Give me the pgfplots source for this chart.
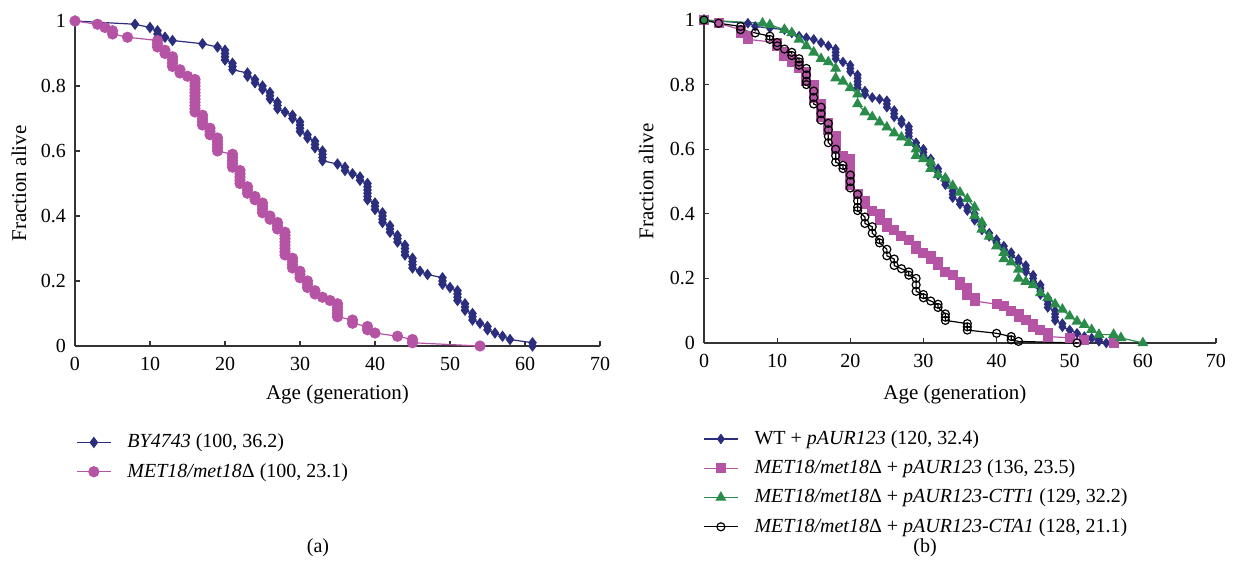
\documentclass[border=0pt]{standalone}
\usepackage{fontspec}
\setmainfont{Liberation Serif}
\usepackage{pgfplots}
\pgfplotsset{compat=1.18}

\definecolor{navy}{RGB}{43,45,125}
\definecolor{pink}{RGB}{181,84,164}
\definecolor{grn}{RGB}{42,140,74}

\pgfplotsset{
  lifespan/.style={
    scale only axis, clip=false,
    axis x line=bottom, axis y line=left,
    axis line style={-, black!80, line width=0.7pt},
    xmin=0, xmax=70, ymin=0, ymax=1,
    xtick={0,10,...,70}, ytick={0,0.2,...,1},
    tick align=inside, major tick length=2.5pt,
    tick style={black!80, line width=0.6pt},
    /pgf/number format/assume math mode=true,
    tick label style={font=\fontsize{10}{12}\selectfont},
    label style={font=\fontsize{10.5}{12}\selectfont},
    xticklabel style={yshift=-2pt},
    yticklabel style={xshift=-1pt},
    ylabel={Fraction alive}, xlabel={Age (generation)},
    legend cell align=left,
    legend style={draw=none, fill=none, font=\fontsize{10}{12}\selectfont,
      row sep=2.2pt, anchor=north west,
      /tikz/every odd column/.append style={column sep=6pt}},
  },
  every axis plot/.append style={line width=0.6pt},
}

\begin{document}
\begin{tikzpicture}
\useasboundingbox (0,0) rectangle (616.5pt,287pt);

% panel (a)
\begin{axis}[lifespan, at={(37.5pt,114pt)}, anchor=south west,
  width=262.5pt, height=162.5pt,
  xlabel style={at={(axis description cs:0.5,-0.15)}, anchor=center},
  ylabel style={at={(axis description cs:-0.107,0.5)}, anchor=center},
  legend style={at={(rel axis cs:-0.01,-0.245)}}]
\addplot[navy, mark=diamond*, mark size=2.4pt, mark options={fill=navy}] coordinates {
(0,1.00)(8,0.99)(10,0.98)(11,0.97)(11,0.96)(12,0.95)(13,0.94)(17,0.93)(19,0.92)(20,0.91)
(20,0.90)(20,0.89)(20,0.88)(21,0.87)(21,0.86)(21,0.85)(23,0.84)(23,0.83)(24,0.82)(24,0.81)
(25,0.80)(25,0.79)(26,0.78)(26,0.77)(26,0.76)(27,0.75)(27,0.74)(27,0.73)(28,0.72)(29,0.71)
(29,0.70)(30,0.69)(30,0.68)(30,0.67)(30,0.66)(31,0.65)(31,0.64)(32,0.63)(32,0.62)(32,0.61)
(33,0.60)(33,0.59)(33,0.58)(33,0.57)(35,0.56)(36,0.55)(36,0.54)(37,0.53)(38,0.52)(38,0.51)
(39,0.50)(39,0.49)(39,0.48)(39,0.47)(39,0.46)(39,0.45)(40,0.44)(40,0.43)(40,0.42)(41,0.41)
(41,0.40)(41,0.39)(41,0.38)(42,0.37)(42,0.36)(42,0.35)(43,0.34)(43,0.33)(43,0.32)(44,0.31)
(44,0.30)(44,0.29)(44,0.28)(45,0.27)(45,0.26)(45,0.25)(45,0.24)(46,0.23)(47,0.22)(49,0.21)
(49,0.20)(49,0.19)(50,0.18)(51,0.17)(51,0.16)(51,0.15)(51,0.14)(52,0.13)(52,0.12)(52,0.11)
(53,0.10)(53,0.09)(53,0.08)(54,0.07)(55,0.06)(55,0.05)(56,0.04)(57,0.03)(58,0.02)(61,0.01)
(61,0.00)};
\addlegendentry{\textit{BY4743} (100, 36.2)}
\addplot[pink, mark=*, mark size=2.5pt, mark options={fill=pink}] coordinates {
(0,1.00)(3,0.99)(4,0.98)(5,0.97)(5,0.96)(7,0.95)(11,0.94)(11,0.93)(11,0.92)(12,0.91)
(12,0.90)(13,0.89)(13,0.88)(13,0.87)(13,0.86)(14,0.85)(14,0.84)(15,0.83)(16,0.82)(16,0.81)
(16,0.80)(16,0.79)(16,0.78)(16,0.77)(16,0.76)(16,0.75)(16,0.74)(16,0.73)(16,0.72)(17,0.71)
(17,0.70)(17,0.69)(17,0.68)(18,0.67)(18,0.66)(18,0.65)(19,0.64)(19,0.63)(19,0.62)(19,0.61)
(19,0.60)(21,0.59)(21,0.58)(21,0.57)(21,0.56)(21,0.55)(22,0.54)(22,0.53)(22,0.52)(22,0.51)
(22,0.50)(23,0.49)(23,0.48)(23,0.47)(24,0.46)(24,0.45)(25,0.44)(25,0.43)(25,0.42)(25,0.41)
(26,0.40)(26,0.39)(27,0.38)(27,0.37)(27,0.36)(28,0.35)(28,0.34)(28,0.33)(28,0.32)(28,0.31)
(28,0.30)(28,0.29)(28,0.28)(29,0.27)(29,0.26)(29,0.25)(29,0.24)(30,0.23)(30,0.22)(30,0.21)
(31,0.20)(31,0.19)(31,0.18)(32,0.17)(32,0.16)(33,0.15)(34,0.14)(35,0.13)(35,0.12)(35,0.11)
(35,0.10)(35,0.09)(37,0.08)(37,0.07)(39,0.06)(39,0.05)(40,0.04)(43,0.03)(45,0.02)(45,0.01)
(54,0.00)};
\addlegendentry{\textit{MET18/met18}Δ (100, 23.1)}
\end{axis}

% panel (b)
\begin{axis}[lifespan, at={(352pt,115.5pt)}, anchor=south west,
  width=256pt, height=161.5pt,
  xlabel style={at={(axis description cs:0.49,-0.16)}, anchor=center},
  ylabel style={at={(axis description cs:-0.113,0.5)}, anchor=center},
  legend style={at={(rel axis cs:-0.014,-0.245)}}]
\addplot[navy, mark=diamond*, mark size=2.2pt, mark options={fill=navy}] coordinates {
(0,1.00)(6,0.99)(7,0.98)(9,0.975)(11,0.97)(12,0.96)(13,0.95)(14,0.945)(15,0.94)(16,0.93)
(17,0.92)(18,0.91)(18,0.90)(18,0.89)(18,0.88)(19,0.87)(20,0.86)(20,0.85)(20,0.84)(21,0.83)
(21,0.82)(21,0.81)(21,0.80)(21,0.79)(22,0.78)(22,0.77)(23,0.76)(24,0.755)(25,0.75)(25,0.74)
(25,0.73)(26,0.72)(26,0.71)(26,0.70)(27,0.69)(27,0.68)(28,0.67)(28,0.66)(28,0.65)(28,0.64)
(29,0.62)(29,0.61)(30,0.60)(30,0.59)(30,0.58)(31,0.57)(31,0.56)(31,0.55)(32,0.54)(32,0.53)
(32,0.52)(33,0.51)(33,0.50)(33,0.49)(34,0.48)(34,0.47)(34,0.46)(34,0.45)(35,0.44)(35,0.43)
(36,0.42)(36,0.41)(37,0.40)(37,0.39)(37,0.38)(38,0.37)(38,0.36)(38,0.35)(39,0.34)(39,0.33)
(40,0.32)(40,0.31)(41,0.30)(41,0.29)(42,0.28)(42,0.27)(43,0.26)(43,0.25)(44,0.24)(44,0.23)
(44,0.22)(45,0.21)(45,0.20)(45,0.19)(46,0.18)(46,0.17)(46,0.16)(46,0.15)(47,0.14)(47,0.13)
(47,0.12)(47,0.11)(48,0.10)(48,0.09)(48,0.08)(48,0.07)(49,0.06)(49,0.05)(50,0.04)(51,0.03)
(52,0.02)(53,0.015)(54,0.01)(54,0.005)(55,0.00)};
\addlegendentry{WT + \textit{pAUR123} (120, 32.4)}
\addplot[pink, mark=square*, mark size=2.2pt, mark options={fill=pink}] coordinates {
(0,1.00)(2,0.99)(5,0.97)(5,0.96)(6,0.95)(6,0.94)(10,0.93)(10,0.92)(11,0.90)(11,0.89)
(12,0.88)(12,0.87)(13,0.86)(13,0.85)(14,0.84)(14,0.82)(14,0.81)(15,0.80)(15,0.79)(15,0.78)
(15,0.76)(16,0.74)(16,0.72)(16,0.70)(17,0.68)(17,0.67)(17,0.66)(18,0.64)(18,0.62)(18,0.60)
(19,0.58)(20,0.57)(20,0.55)(20,0.53)(20,0.51)(20,0.49)(21,0.46)(22,0.44)(22,0.43)(23,0.41)
(24,0.40)(24,0.38)(25,0.37)(25,0.36)(26,0.35)(27,0.33)(28,0.32)(29,0.30)(29,0.29)(30,0.28)
(31,0.27)(31,0.26)(32,0.25)(32,0.24)(33,0.22)(34,0.21)(35,0.19)(35,0.18)(36,0.17)(36,0.15)
(37,0.14)(37,0.13)(40,0.12)(41,0.115)(42,0.10)(43,0.09)(43,0.08)(44,0.07)(45,0.06)(45,0.05)
(46,0.04)(47,0.03)(47,0.02)(50,0.016)(52,0.01)(56,0.00)};
\addlegendentry{\textit{MET18/met18}Δ + \textit{pAUR123} (136, 23.5)}
\addplot[grn, mark=triangle*, mark size=2.6pt, mark options={fill=grn}] coordinates {
(0,1.00)(8,0.99)(9,0.985)(11,0.97)(12,0.96)(13,0.94)(14,0.92)(15,0.90)(16,0.88)(17,0.87)
(18,0.85)(18,0.82)(19,0.81)(20,0.79)(21,0.77)(21,0.74)(22,0.715)(23,0.70)(24,0.684)(25,0.668)
(26,0.65)(27,0.637)(28,0.62)(29,0.60)(29,0.58)(30,0.57)(31,0.56)(31,0.54)(32,0.52)(33,0.51)
(34,0.487)(35,0.466)(36,0.446)(37,0.42)(37,0.394)(38,0.373)(38,0.352)(39,0.33)(40,0.30)(41,0.28)
(41,0.26)(42,0.25)(43,0.228)(43,0.20)(44,0.19)(45,0.18)(46,0.155)(47,0.14)(48,0.12)(49,0.104)
(50,0.083)(51,0.067)(52,0.057)(53,0.041)(54,0.026)(56,0.026)(57,0.016)(60,0.00)};
\addlegendentry{\textit{MET18/met18}Δ + \textit{pAUR123-CTT1} (129, 32.2)}
\addplot[black, mark=o, mark size=2pt, mark options={fill=none, line width=0.6pt}] coordinates {
(0,1.00)(2,0.99)(5,0.98)(5,0.97)(7,0.96)(9,0.95)(9,0.94)(10,0.93)(10,0.92)(11,0.91)
(12,0.90)(12,0.89)(13,0.88)(13,0.87)(13,0.86)(14,0.85)(14,0.83)(14,0.81)(14,0.80)(15,0.78)
(15,0.76)(15,0.74)(16,0.73)(16,0.71)(16,0.69)(17,0.68)(17,0.66)(17,0.64)(17,0.62)(18,0.60)
(18,0.58)(18,0.56)(19,0.55)(19,0.54)(20,0.52)(20,0.50)(20,0.48)(21,0.46)(21,0.44)(21,0.42)
(21,0.41)(22,0.39)(22,0.37)(23,0.36)(23,0.34)(24,0.32)(24,0.31)(25,0.29)(25,0.27)(26,0.26)
(26,0.24)(27,0.23)(28,0.22)(28,0.21)(29,0.20)(29,0.18)(29,0.16)(30,0.15)(30,0.14)(31,0.13)
(32,0.12)(32,0.11)(33,0.09)(33,0.08)(33,0.07)(36,0.06)(36,0.05)(36,0.04)(40,0.03)(42,0.02)
(42,0.01)(43,0.005)(51,0.00)};
\addlegendentry{\textit{MET18/met18}Δ + \textit{pAUR123-CTA1} (128, 21.1)}
\end{axis}

\node[font=\fontsize{10}{12}\selectfont] at (159pt,13pt) {(a)};
\node[font=\fontsize{10}{12}\selectfont] at (462.5pt,13pt) {(b)};
\end{tikzpicture}
\end{document}
